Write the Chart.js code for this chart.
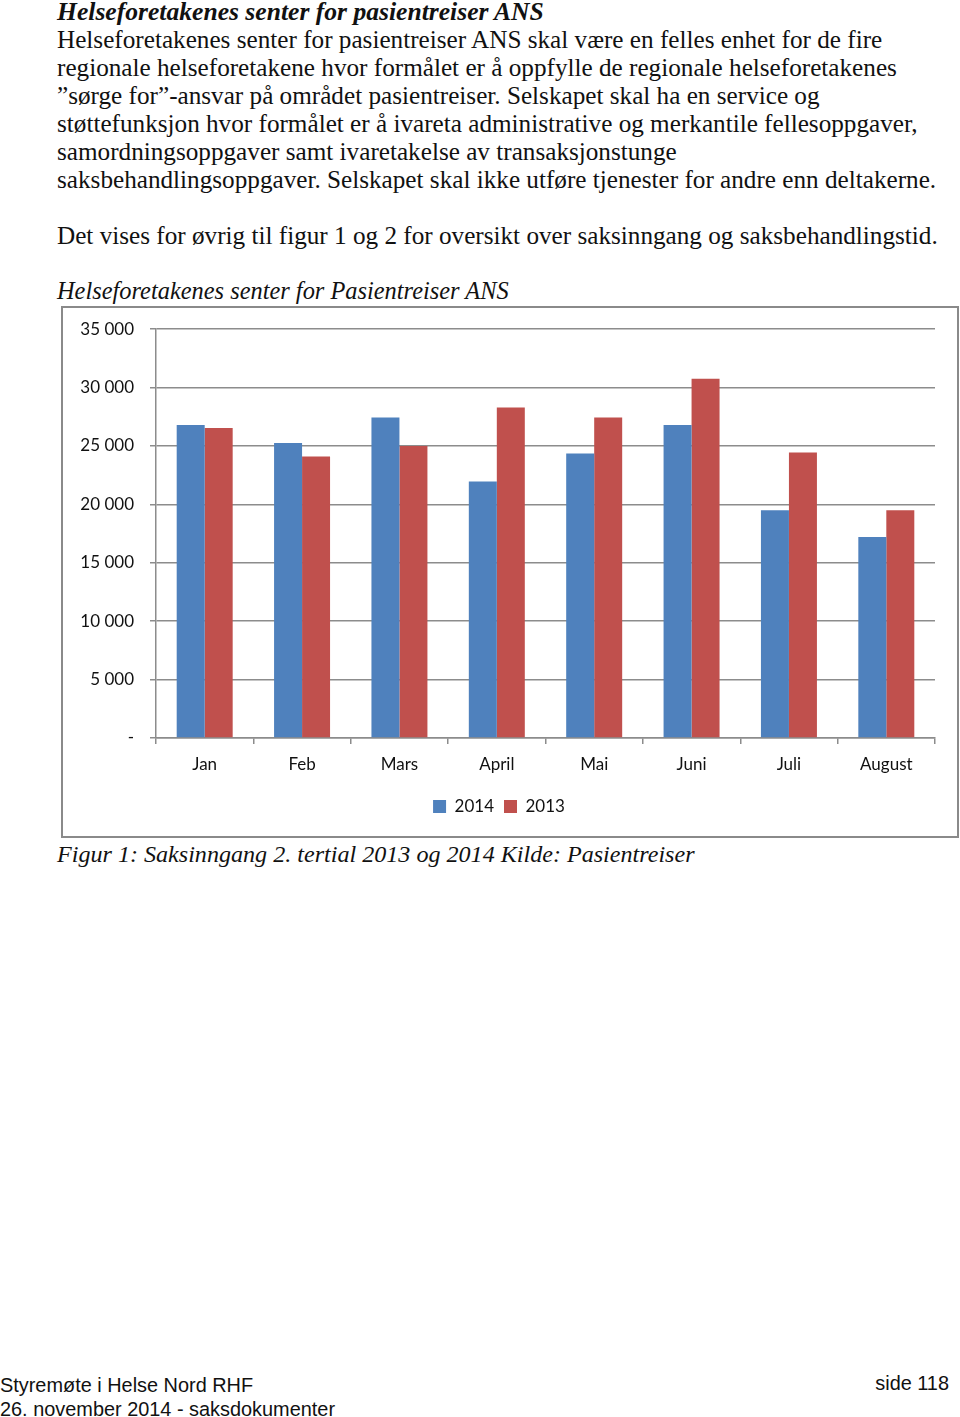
<!DOCTYPE html>
<html lang="no">
<head>
<meta charset="utf-8">
<title>Helseforetakenes senter for pasientreiser ANS</title>
<script src="https://cdn.jsdelivr.net/npm/chart.js@4.4.1/dist/chart.umd.min.js"></script>
<style>
  html, body { margin: 0; padding: 0; background: #fff; }
  body { width: 960px; height: 1417px; position: relative; overflow: hidden; color: #111; }
  .tekst {
    position: absolute; left: 57px; top: -2px;
    font-family: "Liberation Serif", "DejaVu Serif", serif;
    font-size: 25.2px; line-height: 28px; white-space: nowrap;
  }
  .tekst b { font-style: italic; font-size: 25.6px; }
  .figtittel {
    position: absolute; left: 57px; top: 277px;
    font-family: "Liberation Serif", serif; font-style: italic;
    font-size: 24.4px; line-height: 28px; white-space: nowrap;
  }
  .ramme {
    position: absolute; left: 61px; top: 306px; width: 894px; height: 528px;
    border: 2px solid #8a8a8a; overflow: hidden;
  }
  .ramme canvas { display: block; margin-top: -5px; }
  .figtekst {
    position: absolute; left: 57px; top: 840px;
    font-family: "Liberation Serif", serif; font-style: italic;
    font-size: 24.1px; line-height: 28px; white-space: nowrap;
  }
  .bunn { position: absolute; font-family: "Liberation Sans", Arial, sans-serif; font-size: 19.9px; line-height: 24px; white-space: nowrap; }
</style>
</head>
<body>

<div class="tekst">
<b>Helseforetakenes senter for pasientreiser ANS</b><br>
Helseforetakenes senter for pasientreiser ANS skal være en felles enhet for de fire<br>
regionale helseforetakene hvor formålet er å oppfylle de regionale helseforetakenes<br>
”sørge for”-ansvar på området pasientreiser. Selskapet skal ha en service og<br>
støttefunksjon hvor formålet er å ivareta administrative og merkantile fellesoppgaver,<br>
samordningsoppgaver samt ivaretakelse av transaksjonstunge<br>
saksbehandlingsoppgaver. Selskapet skal ikke utføre tjenester for andre enn deltakerne.<br>
<br>
Det vises for øvrig til figur 1 og 2 for oversikt over saksinngang og saksbehandlingstid.
</div>

<div class="figtittel">Helseforetakenes senter for Pasientreiser ANS</div>

<div class="ramme">
  <canvas id="saksinngangChart" width="894" height="533"></canvas>
</div>

<div class="figtekst">Figur 1: Saksinngang 2. tertial 2013 og 2014 Kilde: Pasientreiser</div>

<div class="bunn" style="left:0; top:1373px;">Styremøte i Helse Nord RHF</div>
<div class="bunn" style="left:0; top:1397px;">26. november 2014 - saksdokumenter</div>
<div class="bunn" style="right:11px; top:1371px;">side 118</div>

<script>
// Saksinngang per måned
const maaneder = ['Jan', 'Feb', 'Mars', 'April', 'Mai', 'Juni', 'Juli', 'August'];
const saker2014 = [26800, 25250, 27450, 21950, 24350, 26800, 19500, 17200];
const saker2013 = [26550, 24100, 25000, 28300, 27450, 30750, 24450, 19500];
const yTicks = [0, 5000, 10000, 15000, 20000, 25000, 30000, 35000];

const gridFarge = '#8c8c8c';
const skrift = { family: 'Lato, "Open Sans", sans-serif', size: 17 };

function tusen(v) {
    if (v === 0) return '-';
    return String(v).replace(/\B(?=(\d{3})+(?!\d))/g, ' ');
}

const ctx = document.getElementById('saksinngangChart').getContext('2d');
const saksinngangChart = new Chart(ctx, {
    type: 'bar',
    data: {
        labels: maaneder,
        datasets: [{
            label: '2014',
            data: saker2014,
            backgroundColor: '#4F81BD',
            borderWidth: 0
        }, {
            label: '2013',
            data: saker2013,
            backgroundColor: '#C0504D',
            borderWidth: 0
        }]
    },
    options: {
        responsive: false,
        animation: false,
        devicePixelRatio: 1,
        layout: { padding: { left: 0, right: 22, top: 15, bottom: 11 } },
        categoryPercentage: 0.575,
        barPercentage: 1,
        scales: {
            x: {
                grid: { drawOnChartArea: false, drawTicks: true, tickLength: 6, color: gridFarge, lineWidth: 1.5 },
                border: { color: gridFarge, width: 1.5 },
                ticks: { color: '#111', font: skrift, padding: 10 },
                afterFit: function(scale) { scale.height = 50; }
            },
            y: {
                min: 0,
                max: 35000,
                afterBuildTicks: function(scale) {
                    scale.ticks = yTicks.map(function(v) { return { value: v }; });
                },
                grid: { color: gridFarge, lineWidth: 1.5, tickLength: 6 },
                border: { color: gridFarge, width: 1.5 },
                ticks: { color: '#111', font: skrift, padding: 16, callback: tusen },
                afterFit: function(scale) { scale.width = 93; }
            }
        },
        plugins: {
            legend: {
                position: 'bottom',
                labels: { color: '#111', font: skrift, boxWidth: 13, boxHeight: 13, padding: 10, useBorderRadius: false }
            },
            tooltip: { enabled: false },
            title: { display: false }
        }
    }
});
</script>
</body>
</html>
